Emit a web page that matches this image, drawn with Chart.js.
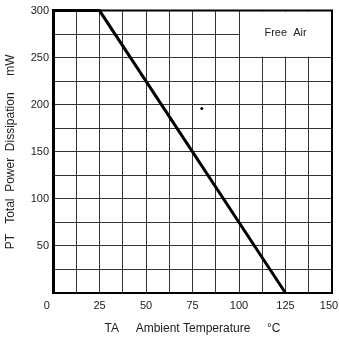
<!DOCTYPE html>
<html>
<head>
<meta charset="utf-8">
<script src="https://cdn.jsdelivr.net/npm/chart.js@4"></script>
<style>
  html, body { margin: 0; padding: 0; background: #fff; }
  canvas { display: block; }
</style>
</head>
<body>
<canvas id="derating" width="339" height="340"></canvas>
<script>
// derating curve: temperature (°C) vs. allowed power (mW)
const temps = [0, 25, 125];
const power = [300, 300, 0];
// small mark left on the sheet
const speck = [{ x: 80, y: 196 }];
const xTicks = [0, 25, 50, 75, 100, 125, 150];
const yTicks = [50, 100, 150, 200, 250, 300];
const noteText = "Free  Air";

const ink = "#222";
const font = { family: "'Liberation Sans', Arial, sans-serif", size: 11 };

// end labels sit a little inside the frame
function xLabel(v) {
    if (!xTicks.includes(v)) return "";
    if (v === 0) return "0    ";
    if (v === 150) return "150  ";
    return String(v);
}

// blank out the grid behind the note, then frame the plot
const notePlugin = {
    id: "note",
    beforeDatasetsDraw(chart) {
        const { ctx, scales, chartArea: a } = chart;
        const x0 = scales.x.getPixelForValue(100);
        const x1 = scales.x.getPixelForValue(150);
        const y0 = scales.y.getPixelForValue(300);
        const y1 = scales.y.getPixelForValue(250);
        ctx.save();
        ctx.fillStyle = "#fff";
        ctx.fillRect(x0 + 1, y0 + 1, x1 - x0 - 2, y1 - y0 - 2);
        ctx.fillStyle = ink;
        ctx.font = "11px 'Liberation Sans', Arial, sans-serif";
        ctx.textAlign = "center";
        ctx.textBaseline = "middle";
        ctx.fillText(noteText, (x0 + x1) / 2, scales.y.getPixelForValue(276));
        ctx.strokeStyle = "#000";
        ctx.lineWidth = 2;
        ctx.beginPath();
        ctx.moveTo(a.left, a.top);
        ctx.lineTo(a.right, a.top);
        ctx.lineTo(a.right, a.bottom);
        ctx.stroke();
        ctx.restore();
    },
};

new Chart(document.getElementById("derating"), {
    type: "line",
    data: {
        datasets: [
            {
                data: temps.map((t, i) => ({ x: t, y: power[i] })),
                borderColor: "#000",
                borderWidth: 3,
                pointRadius: 0,
                tension: 0,
                clip: false,
            },
            {
                data: speck,
                showLine: false,
                pointRadius: 1.5,
                pointBackgroundColor: "#000",
                pointBorderWidth: 0,
            },
        ],
    },
    options: {
        responsive: false,
        animation: false,
        layout: { padding: { top: 10, right: 7, left: 0, bottom: 0 } },
        plugins: { legend: { display: false }, tooltip: { enabled: false } },
        scales: {
            x: {
                type: "linear",
                min: 0,
                max: 150,
                afterFit: (s) => { s.height = 47; s.paddingRight = 0; },
                border: { color: "#000", width: 2 },
                grid: { color: "#333", lineWidth: 1, drawTicks: false },
                ticks: {
                    stepSize: 12.5,
                    padding: 6,
                    autoSkip: false,
                    maxRotation: 0,
                    minRotation: 0,
                    color: ink,
                    font: font,
                    callback: xLabel,
                },
                title: {
                    display: true,
                    text: "TA     Ambient Temperature     °C",
                    color: ink,
                    font: { family: font.family, size: 12 },
                    padding: { top: 10 },
                },
            },
            y: {
                min: 0,
                max: 300,
                afterFit: (s) => { s.width = 53; },
                border: { color: "#000", width: 3 },
                grid: { color: "#333", lineWidth: 1, drawTicks: false },
                ticks: {
                    stepSize: 25,
                    padding: 4,
                    color: ink,
                    font: font,
                    callback: (v) => (yTicks.includes(v) ? String(v) : ""),
                },
                title: {
                    display: true,
                    text: "PT   Total  Power  Dissipation     mW",
                    color: ink,
                    font: { family: font.family, size: 12 },
                    padding: { top: 3, bottom: 0 },
                },
            },
        },
    },
    plugins: [notePlugin],
});
</script>
</body>
</html>
